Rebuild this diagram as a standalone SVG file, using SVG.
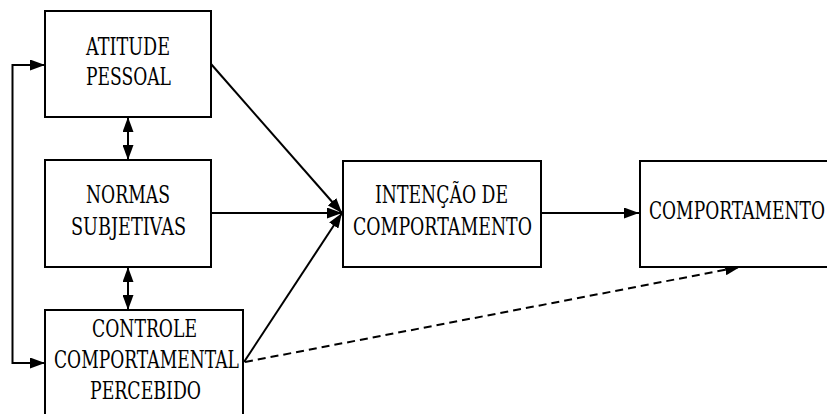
<svg xmlns="http://www.w3.org/2000/svg" width="827" height="414" viewBox="0 0 827 414">
<style>
.box{fill:#fff;stroke:#000;stroke-width:2}
.t{font-family:"DejaVu Serif","Liberation Serif",serif;font-size:24.5px;fill:#000;text-anchor:middle}
.c{fill:none;stroke:#000;stroke-width:2}
.d{fill:none;stroke:#000;stroke-width:2;stroke-dasharray:8 5}
</style>
<defs>
<marker id="ah" viewBox="0 0 15 11" refX="15" refY="5.5" markerWidth="15" markerHeight="11" markerUnits="userSpaceOnUse" orient="auto-start-reverse">
<path d="M0,0 L15,5.5 L0,11 Z" fill="#000"/>
</marker>
</defs>
<rect width="827" height="414" fill="#fff"/>
<g id="connectors">
<polyline class="c" points="45,65 12.5,65 12.5,363 45,363" marker-start="url(#ah)" marker-end="url(#ah)"/>
<line class="c" x1="128" y1="117" x2="128" y2="160" marker-start="url(#ah)" marker-end="url(#ah)"/>
<line class="c" x1="128" y1="267" x2="128" y2="310" marker-start="url(#ah)" marker-end="url(#ah)"/>
<line class="c" x1="211" y1="64" x2="342" y2="213" marker-end="url(#ah)"/>
<line class="c" x1="211" y1="213" x2="342" y2="213" marker-end="url(#ah)"/>
<line class="c" x1="244" y1="362" x2="342" y2="213" marker-end="url(#ah)"/>
<line class="c" x1="541" y1="213" x2="639" y2="213" marker-end="url(#ah)"/>
<line class="d" x1="245" y1="362" x2="740" y2="267" marker-end="url(#ah)"/>
</g>
<g id="atitude">
<rect class="box" x="45" y="11" width="166" height="106"/>
<text class="t" x="128" y="55" textLength="84" lengthAdjust="spacingAndGlyphs">ATITUDE</text>
<text class="t" x="128.5" y="85" textLength="85" lengthAdjust="spacingAndGlyphs">PESSOAL</text>
</g>
<g id="normas">
<rect class="box" x="45" y="160" width="166" height="107"/>
<text class="t" x="128" y="203" textLength="84" lengthAdjust="spacingAndGlyphs">NORMAS</text>
<text class="t" x="128.5" y="235" textLength="115" lengthAdjust="spacingAndGlyphs">SUBJETIVAS</text>
</g>
<g id="controle">
<rect class="box" x="45" y="310" width="198" height="110"/>
<text class="t" x="144.5" y="337" textLength="105" lengthAdjust="spacingAndGlyphs">CONTROLE</text>
<text class="t" x="146.5" y="368" textLength="185" lengthAdjust="spacingAndGlyphs">COMPORTAMENTAL</text>
<text class="t" x="145.5" y="399" textLength="111" lengthAdjust="spacingAndGlyphs">PERCEBIDO</text>
</g>
<g id="intencao">
<rect class="box" x="343" y="161" width="198" height="106"/>
<text class="t" x="441.5" y="203" textLength="133" lengthAdjust="spacingAndGlyphs">INTENÇÃO DE</text>
<text class="t" x="442.5" y="235" textLength="179" lengthAdjust="spacingAndGlyphs">COMPORTAMENTO</text>
</g>
<g id="comportamento">
<rect class="box" x="640" y="161" width="200" height="106"/>
<text class="t" x="737" y="219" textLength="176" lengthAdjust="spacingAndGlyphs">COMPORTAMENTO</text>
</g>
</svg>
